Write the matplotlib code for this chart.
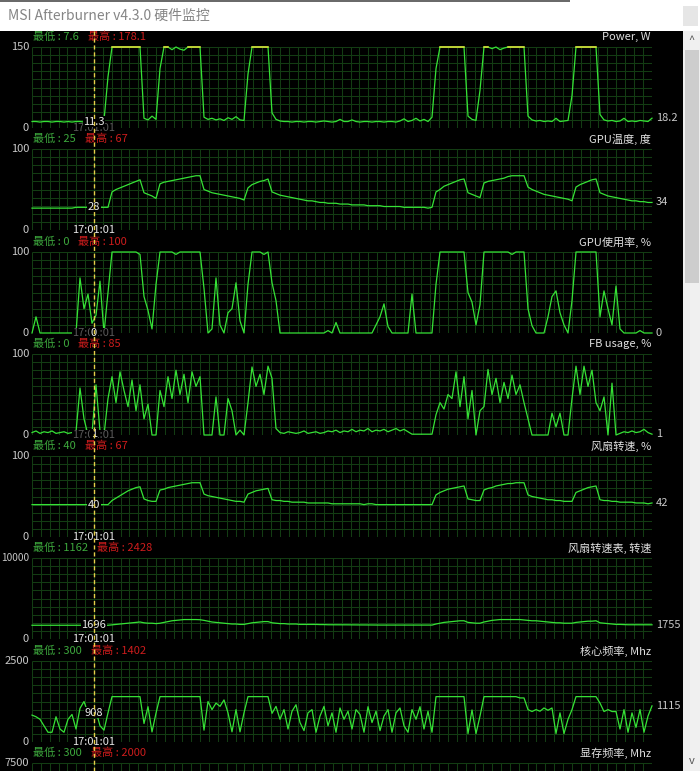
import numpy as np
import matplotlib
matplotlib.use('Agg')
import matplotlib.pyplot as plt
from matplotlib.lines import Line2D
from matplotlib.patches import Rectangle
from matplotlib.collections import LineCollection

plt.rcParams['font.family'] = ['Noto Sans CJK SC', 'DejaVu Sans']

# ---------------- data (one sample every ~4 px of the monitor) ----------------
power = [
    12, 12, 11, 12, 12, 11, 12, 12, 11, 12,
    11, 12, 12, 11, 11, 11, 12, 13, 14, 95,
    150, 150, 150, 150, 150, 150, 150, 150, 18, 15,
    22, 16, 110, 150, 150, 145, 150, 146, 144, 150,
    150, 150, 150, 20, 16, 18, 15, 17, 14, 19,
    16, 21, 15, 14, 100, 150, 150, 150, 150, 150,
    28, 16, 13, 12, 12, 11, 12, 12, 11, 12,
    12, 11, 12, 13, 12, 11, 12, 16, 12, 12,
    15, 12, 11, 12, 12, 11, 12, 12, 11, 12,
    12, 11, 13, 17, 12, 14, 18, 13, 16, 12,
    20, 110, 150, 150, 150, 150, 150, 150, 150, 22,
    16, 14, 70, 150, 150, 147, 150, 145, 148, 150,
    150, 150, 150, 150, 22, 15, 13, 14, 12, 13,
    12, 18, 12, 13, 14, 60, 150, 150, 150, 150,
    150, 150, 25, 15, 13, 14, 12, 13, 18, 12,
    13, 12, 14, 13, 12, 18.2,
]
gpu_temp = [
    27, 27, 27, 27, 27, 27, 27, 27, 27, 27,
    27, 28, 28, 28, 28, 28, 28, 28, 28, 28,
    47, 50, 52, 54, 56, 58, 60, 62, 46, 44,
    42, 39, 57, 59, 60, 61, 62, 63, 64, 65,
    66, 67, 67, 50, 48, 46, 45, 44, 43, 42,
    41, 40, 39, 37, 52, 56, 58, 60, 61, 63,
    47, 45, 43, 42, 41, 40, 39, 38, 37, 36,
    36, 35, 34, 34, 33, 33, 33, 32, 32, 32,
    31, 31, 31, 31, 30, 30, 30, 30, 29, 29,
    29, 29, 29, 28, 28, 28, 28, 28, 28, 27,
    28, 47, 50, 54, 56, 58, 60, 62, 63, 46,
    44, 42, 40, 58, 60, 61, 62, 63, 64, 66,
    67, 67, 67, 67, 53, 50, 48, 46, 44, 43,
    42, 41, 40, 39, 38, 36, 53, 56, 58, 60,
    62, 63, 46, 44, 42, 41, 40, 39, 38, 37,
    36, 36, 35, 35, 34, 34,
]
gpu_usage = [
    0, 20, 0, 0, 0, 0, 0, 0, 0, 0,
    0, 0, 68, 30, 48, 12, 22, 64, 0, 50,
    100, 100, 100, 100, 100, 100, 100, 97, 45, 28,
    5, 60, 100, 100, 100, 100, 97, 100, 100, 100,
    100, 100, 100, 55, 0, 5, 68, 10, 0, 25,
    30, 62, 15, 0, 60, 100, 100, 100, 97, 100,
    62, 40, 0, 0, 0, 0, 0, 0, 0, 0,
    0, 0, 0, 0, 3, 0, 13, 0, 0, 0,
    0, 0, 0, 0, 0, 0, 10, 20, 36, 8,
    0, 0, 0, 0, 0, 48, 0, 0, 0, 0,
    0, 60, 100, 100, 100, 100, 100, 100, 100, 50,
    38, 10, 35, 100, 100, 100, 100, 100, 100, 100,
    97, 100, 100, 100, 30, 9, 0, 0, 0, 20,
    45, 52, 25, 10, 0, 40, 100, 100, 100, 100,
    100, 100, 20, 52, 30, 10, 58, 5, 0, 0,
    0, 0, 3, 0, 0, 0,
]
fb_usage = [
    3, 5, 2, 4, 3, 5, 2, 3, 4, 2,
    3, 4, 58, 20, 0, 2, 62, 5, 0, 45,
    72, 40, 78, 55, 35, 68, 30, 62, 20, 38,
    0, 0, 55, 35, 72, 45, 80, 50, 75, 40,
    78, 60, 72, 0, 0, 0, 47, 0, 0, 45,
    30, 0, 6, 0, 40, 84, 60, 75, 50, 85,
    70, 8, 3, 2, 4, 3, 2, 3, 5, 2,
    3, 4, 2, 3, 5, 4, 6, 3, 5, 4,
    7, 4, 6, 5, 8, 4, 6, 5, 7, 4,
    6, 8, 5, 7, 4, 1, 1, 1, 1, 1,
    1, 25, 40, 32, 50, 45, 78, 35, 72, 20,
    55, 0, 30, 35, 81, 50, 70, 40, 65, 45,
    74, 50, 62, 40, 20, 0, 0, 0, 0, 0,
    27, 10, 27, 0, 0, 45, 85, 50, 85, 60,
    80, 40, 30, 47, 0, 64, 0, 2, 4, 3,
    5, 3, 4, 7, 3, 1,
]
fan_pct = [
    40, 40, 40, 40, 40, 40, 40, 40, 40, 40,
    40, 40, 40, 40, 40, 40, 40, 40, 40, 40,
    45, 48, 51, 54, 57, 59, 61, 62, 47, 45,
    44, 44, 58, 59, 61, 62, 63, 64, 65, 66,
    67, 67, 67, 53, 51, 50, 49, 48, 47, 46,
    45, 44, 44, 43, 53, 55, 57, 58, 59, 60,
    46, 45, 45, 44, 44, 43, 43, 43, 43, 42,
    42, 42, 42, 42, 42, 41, 41, 41, 41, 41,
    41, 41, 41, 40, 41, 41, 40, 40, 40, 40,
    40, 40, 40, 40, 40, 40, 40, 40, 40, 40,
    40, 52, 55, 57, 59, 60, 61, 62, 63, 47,
    46, 45, 45, 58, 60, 61, 63, 64, 65, 66,
    66, 67, 67, 67, 52, 50, 49, 48, 47, 46,
    46, 45, 45, 44, 44, 44, 55, 57, 59, 61,
    62, 63, 46, 45, 45, 44, 44, 43, 43, 43,
    43, 42, 42, 42, 41, 42,
]
fan_rpm = [
    1696, 1696, 1696, 1696, 1696, 1696, 1696, 1696, 1696, 1696,
    1696, 1696, 1696, 1696, 1696, 1696, 1696, 1696, 1696, 1696,
    1750, 1800, 1850, 1900, 1950, 2000, 2050, 2100, 2000, 1950,
    1950, 1900, 1950, 2050, 2150, 2250, 2300, 2350, 2400, 2400,
    2400, 2400, 2380, 2300, 2200, 2100, 2050, 2000, 1950, 1900,
    1850, 1850, 1800, 1800, 1900, 2000, 2050, 2100, 2150, 2150,
    2000, 1950, 1900, 1900, 1850, 1850, 1850, 1800, 1800, 1800,
    1800, 1800, 1780, 1780, 1760, 1760, 1760, 1750, 1750, 1750,
    1740, 1740, 1740, 1730, 1730, 1730, 1720, 1720, 1720, 1720,
    1720, 1720, 1720, 1720, 1720, 1720, 1720, 1720, 1720, 1720,
    1720, 1850, 1950, 2050, 2100, 2150, 2200, 2250, 2250, 2050,
    2000, 1950, 1950, 2100, 2200, 2300, 2350, 2400, 2400, 2400,
    2400, 2400, 2400, 2350, 2300, 2250, 2250, 2200, 2150, 2100,
    2050, 2000, 2000, 1950, 1950, 1950, 2050, 2100, 2150, 2200,
    2200, 2250, 2000, 1950, 1900, 1850, 1800, 1800, 1780, 1760,
    1760, 1760, 1755, 1755, 1755, 1755,
]
core_clock = [
    830, 780, 700, 500, 300, 300, 780, 400, 300, 700,
    850, 400, 1040, 1250, 900, 908, 950, 500, 365, 900,
    1400, 1400, 1400, 1400, 1400, 1400, 1400, 1400, 570, 1090,
    310, 890, 1400, 1400, 1400, 1400, 1400, 1400, 1400, 1400,
    1400, 1400, 1400, 365, 1250, 1000, 1200, 1100, 1300, 900,
    313, 1000, 313, 900, 1400, 1400, 1400, 1400, 1400, 1400,
    885, 1100, 700, 1000, 400, 950, 1150, 600, 350, 900,
    1000, 300, 800, 1100, 500, 900, 300, 1050, 700, 950,
    400, 1000, 850, 300, 1090, 600, 950, 350, 800, 1000,
    300, 900, 1050, 500, 300, 1000, 700, 1090, 400, 950,
    300, 1400, 1400, 1400, 1400, 1400, 1400, 1400, 1400, 260,
    990, 260, 800, 1400, 1400, 1400, 1400, 1400, 1400, 1400,
    1400, 1400, 1360, 1360, 1000, 940, 1000, 950, 1050, 980,
    1050, 260, 900, 260, 700, 1000, 1400, 1400, 1400, 1400,
    1400, 1400, 1200, 940, 1000, 940, 940, 400, 1000, 300,
    900, 450, 1000, 300, 800, 1115,
]
mem_clock = []  # panel cut off at the bottom of the window

series = [power, gpu_temp, gpu_usage, fb_usage, fan_pct, fan_rpm, core_clock, mem_clock]
names = ["Power, W", "GPU温度, 度", "GPU使用率, %", "FB usage, %",
         "风扇转速, %", "风扇转速表, 转速", "核心频率, Mhz", "显存频率, Mhz"]
y_max = [150, 100, 100, 100, 100, 10000, 2500, 7500]
y_max_labels = ["150", "100", "100", "100", "100", "10000", "2500", "7500"]
min_labels = ["7.6", "25", "0", "0", "40", "1162", "300", "300"]
max_labels = ["178.1", "67", "100", "85", "67", "2428", "1402", "2000"]
cursor_labels = ["11.3", "28", "0", "1", "40", "1696", "908", None]
last_labels = ["18.2", "34", "0", "1", "42", "1755", "1115", None]
stamp_dim = [True, False, True, True, False, False, False, False]
cursor_index = 15.5
time_label = "17:01:01"

# ---------------- layout ----------------
W, H = 700, 771
fig = plt.figure(figsize=(W / 100, H / 100), dpi=100)
fig.patch.set_facecolor('black')

def fx(p):
    return p / W

def fy(p):
    return 1 - p / H

def frect(x0, y0, x1, y1, color, z=0):
    fig.add_artist(Rectangle((fx(x0), fy(y1)), (x1 - x0) / W, (y1 - y0) / H,
                             transform=fig.transFigure, facecolor=color,
                             edgecolor='none', zorder=z))

# window chrome
frect(0, 0, 700, 31, 'white', 0)
frect(0, 0, 570, 1.5, '#6a6a6a', 1)
frect(683, 31, 700, 771, '#f0f0f0', 0)
frect(685, 50, 699, 283, '#cdcdcd', 1)
frect(683, 6, 698, 26, '#e6e6e6', 1)
fig.text(fx(8), fy(16), "MSI Afterburner v4.3.0 硬件监控", color='#858585',
         fontsize=10, va='center', ha='left')
fig.text(fx(691.5), fy(40), "^", color='#555555', fontsize=8, ha='center', va='center')
fig.text(fx(691.5), fy(761), "v", color='#555555', fontsize=8, ha='center', va='center')

PX0, PX1 = 32, 652
tops = [47, 149, 252, 354, 456, 558, 661, 763]
PH = 81
N = len(power)
t = np.arange(N)

GREEN = '#36e236'
GRID = '#133c13'
HDR_GREEN = '#3da83d'
HDR_RED = '#cc1c1c'
LBL = '#c8c8c8'

col_step = 8.85
row_step = 8.1

axes = []
for k in range(8):
    top = tops[k]
    ax = fig.add_axes([fx(PX0), fy(top + PH), (PX1 - PX0) / W, PH / H])
    ax.set_facecolor('black')
    ax.set_xlim(0, N - 1)
    ax.set_ylim(0, y_max[k])
    ax.set_xticks([])
    ax.set_yticks([])
    for s in ax.spines.values():
        s.set_visible(False)
    # grid in axes fraction
    segs = []
    ncol = int((PX1 - PX0) / col_step)
    for c in range(ncol + 1):
        xf = c * col_step / (PX1 - PX0)
        segs.append([(xf, 0), (xf, 1)])
    nrow = int(PH / row_step)
    for r in range(nrow + 1):
        yf = r * row_step / PH
        segs.append([(0, yf), (1, yf)])
    ax.add_collection(LineCollection(segs, colors=GRID, linewidths=0.75,
                                     transform=ax.transAxes, zorder=1))
    vals = series[k]
    if len(vals):
        v = np.array(vals, dtype=float)
        ax.plot(t, v, color=GREEN, lw=0.9, zorder=3, clip_on=False)
        if k == 0:
            over = np.where(v >= y_max[k], v, np.nan)
            ax.plot(t, over, color='#e8e03a', lw=1.1, zorder=4, clip_on=False)
    # header texts
    tmin = fig.text(fx(33), fy(top - 10), "最低 : " + min_labels[k], color=HDR_GREEN,
                    fontsize=8, ha='left', va='center')
    ax.annotate("最高 : " + max_labels[k], xy=(1, 0.5), xycoords=tmin,
                xytext=(9, 0), textcoords='offset pixels', color=HDR_RED,
                fontsize=8, ha='left', va='center', annotation_clip=False)
    fig.text(fx(651), fy(top - 10), names[k], color='#e0e0e0', fontsize=8,
             ha='right', va='center')
    # y labels
    fig.text(fx(29), fy(top), y_max_labels[k], color=LBL,
             fontsize=7.3 if len(y_max_labels[k]) > 4 else 8,
             ha='right', va='center')
    if k < 7:
        fig.text(fx(29), fy(top + PH), "0", color=LBL, fontsize=8,
                 ha='right', va='center')
        # timestamp under cursor
        ax.text(cursor_index, 0, time_label, ha='center', va='center',
                color='#5a5a5a' if stamp_dim[k] else '#e6e6e6', fontsize=8,
                zorder=6, clip_on=False,
                bbox=dict(facecolor='black', edgecolor='none', pad=0.3))
        # cursor value
        cv = float(cursor_labels[k])
        ax.text(cursor_index, cv, cursor_labels[k], ha='center', va='center',
                color='#e8e8e8', fontsize=8, zorder=7, clip_on=False,
                bbox=dict(facecolor='black', edgecolor='none', pad=0.3))
        # last value
        ax.annotate(last_labels[k], xy=(N - 1, float(last_labels[k])),
                    xytext=(4, 0), textcoords='offset pixels', color=LBL,
                    fontsize=8, ha='left', va='center', annotation_clip=False)
    axes.append(ax)

# cursor dashed line across the whole monitor
fig.canvas.draw()
xd = axes[0].transData.transform((cursor_index, 0))[0]
xf = fig.transFigure.inverted().transform((xd, 0))[0]
fig.add_artist(Line2D([xf, xf], [fy(31), 0], transform=fig.transFigure,
                      color='#e6cf4a', lw=1.0, ls=(0, (3, 2)), zorder=5))

fig.savefig('out.png', dpi=100, facecolor='black')
